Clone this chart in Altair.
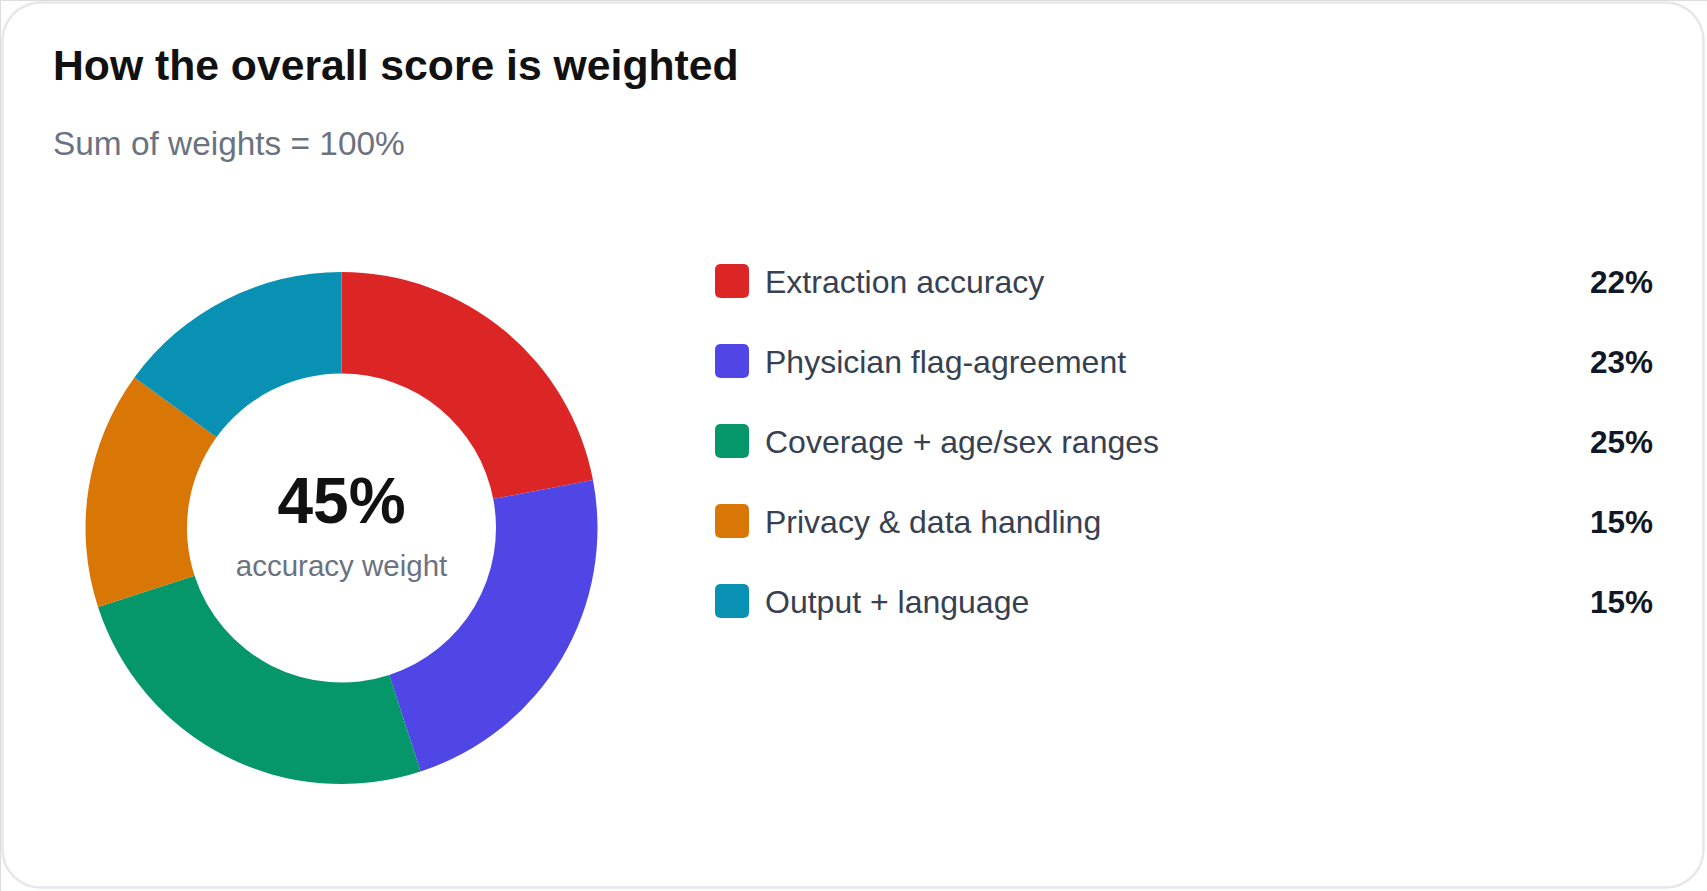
import altair as alt
import pandas as pd

# ---- data ----
categories = [
    "Extraction accuracy",
    "Physician flag-agreement",
    "Coverage + age/sex ranges",
    "Privacy & data handling",
    "Output + language",
]
weights = [22, 23, 25, 15, 15]
value_labels = ["22%", "23%", "25%", "15%", "15%"]
colors = ["#dc2626", "#4f46e5", "#059669", "#d97706", "#0891b2"]

title_text = "How the overall score is weighted"
subtitle_text = "Sum of weights = 100%"
center_value = "45%"
center_caption = "accuracy weight"

# ---- tables built from the arrays ----
df = pd.DataFrame({
    "category": categories,
    "weight": weights,
    "label": value_labels,
    "order": list(range(len(categories))),
})
one = pd.DataFrame({"k": [0]})

FONT = "Liberation Sans"
W, H = 1707, 891

color_scale = alt.Scale(domain=categories, range=colors)
y_scale = alt.Scale(type="point", domain=categories, range=[281, 601], padding=0)

card = alt.Chart(one).mark_rect(
    fill="white", stroke="#e5e7eb", strokeWidth=2.5, cornerRadius=38
).encode(
    x=alt.value(2.5), x2=alt.value(1703.5), y=alt.value(2.5), y2=alt.value(887.5)
)

donut = alt.Chart(df).mark_arc(innerRadius=154.5, outerRadius=256).encode(
    theta=alt.Theta("weight:Q", stack=True),
    color=alt.Color("category:N", scale=color_scale, legend=None),
    order=alt.Order("order:Q"),
    x=alt.value(341.5),
    y=alt.value(528),
)

swatch_path = ("M-0.65,-1L0.65,-1Q1,-1,1,-0.65L1,0.65Q1,1,0.65,1"
               "L-0.65,1Q-1,1,-1,0.65L-1,-0.65Q-1,-1,-0.65,-1Z")
swatches = alt.Chart(df).mark_point(
    shape=swatch_path, filled=True, size=34 * 34, opacity=1, strokeWidth=0
).encode(
    x=alt.value(732),
    y=alt.Y("category:N", scale=y_scale, axis=None),
    color=alt.Color("category:N", scale=color_scale, legend=None),
)

labels = alt.Chart(df).mark_text(
    align="left", baseline="alphabetic", dy=11.5, font=FONT, fontSize=32, color="#374151"
).encode(
    x=alt.value(765),
    y=alt.Y("category:N", scale=y_scale, axis=None),
    text="category:N",
)

values = alt.Chart(df).mark_text(
    align="right", baseline="alphabetic", dy=12, font=FONT, fontSize=31.5,
    fontWeight="bold", color="#111827"
).encode(
    x=alt.value(1653),
    y=alt.Y("category:N", scale=y_scale, axis=None),
    text="label:N",
)

title = alt.Chart(one).mark_text(
    text=title_text, align="left", baseline="alphabetic", font=FONT,
    fontSize=42.7, fontWeight="bold", color="#111111"
).encode(x=alt.value(53), y=alt.value(80))

subtitle = alt.Chart(one).mark_text(
    text=subtitle_text, align="left", baseline="alphabetic", font=FONT,
    fontSize=33.4, color="#6b7280"
).encode(x=alt.value(53), y=alt.value(155))

center1 = alt.Chart(one).mark_text(
    text=center_value, align="center", baseline="alphabetic", font=FONT,
    fontSize=64, fontWeight="bold", color="#111111"
).encode(x=alt.value(341.5), y=alt.value(523))

center2 = alt.Chart(one).mark_text(
    text=center_caption, align="center", baseline="alphabetic", font=FONT,
    fontSize=29.5, color="#6b7280"
).encode(x=alt.value(341.5), y=alt.value(576))

chart = alt.layer(
    card, donut, swatches, labels, values, title, subtitle, center1, center2
).properties(
    width=W, height=H, padding=0,
    autosize=alt.AutoSizeParams(type="none"),
).configure_view(strokeWidth=0).configure(background="white")

chart.save("out.html", embed_options={"renderer": "svg", "actions": False})
